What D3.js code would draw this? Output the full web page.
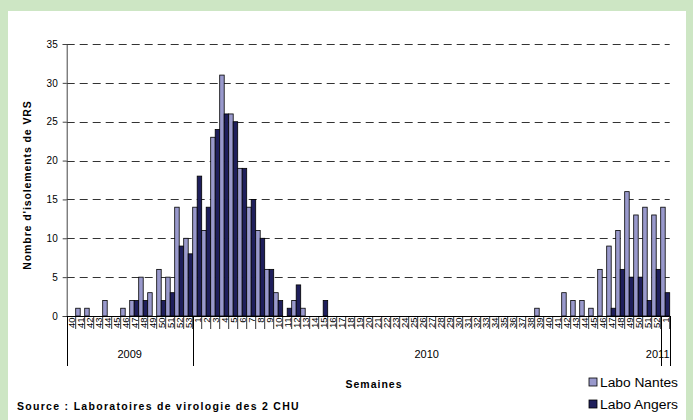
<!DOCTYPE html>
<html>
<head>
<meta charset="utf-8">
<script src="https://cdn.jsdelivr.net/npm/d3@7"></script>
<style>
  body { margin: 0; background: #cde6c4; }
  svg { display: block; font-family: "Liberation Sans", Arial, sans-serif; }
</style>
</head>
<body>
<svg width="693" height="420"></svg>
<script>
// weeks per year shown on the x axis
var years = ['2009', '2010', '2011'];
var weeks2009 = [40, 41, 42, 43, 44, 45, 46, 47, 48, 49, 50, 51, 52, 53];
var weeks2010 = d3.range(1, 53); // weeks 1..52
var weeks2011 = [1];

// Labo Nantes
var nantes2009 = [0, 1, 1, 0, 2, 0, 1, 2, 5, 3, 6, 5, 14, 10];
var nantes2010 = [14, 11, 23, 31, 26, 19, 14, 11, 6, 3, 0, 2, 1, 0, 0, 0, 0, 0, 0, 0,
                  0, 0, 0, 0, 0, 0, 0, 0, 0, 0, 0, 0, 0, 0, 0, 0, 0, 0, 1, 0,
                  0, 3, 2, 2, 1, 6, 9, 11, 16, 13, 14, 13];
var nantes2011 = [14];

// Labo Angers
var angers2009 = [0, 0, 0, 0, 0, 0, 0, 2, 2, 0, 2, 3, 9, 8];
var angers2010 = [18, 14, 24, 26, 25, 19, 15, 10, 6, 2, 1, 4, 0, 0, 2, 0, 0, 0, 0, 0,
                  0, 0, 0, 0, 0, 0, 0, 0, 0, 0, 0, 0, 0, 0, 0, 0, 0, 0, 0, 0,
                  0, 0, 0, 0, 0, 0, 1, 6, 5, 5, 2, 6];
var angers2011 = [3];

var series = ['Labo Nantes', 'Labo Angers'];
var colors = ['#9999cc', '#1f1f5c'];
var yTicks = [0, 5, 10, 15, 20, 25, 30, 35];

// build rows
var data = [];
function addYear(year, weeks, n, a) {
  weeks.forEach(function (w, i) {
    data.push({ key: year + '-' + w, year: year, week: w, values: [n[i], a[i]] });
  });
}
addYear('2009', weeks2009, nantes2009, angers2009);
addYear('2010', weeks2010, nantes2010, angers2010);
addYear('2011', weeks2011, nantes2011, angers2011);

var plot = { left: 66.7, right: 669.7, top: 44, bottom: 316 };

var svg = d3.select('svg');

// white panel
svg.append('rect')
  .attr('x', 8).attr('y', 11)
  .attr('width', 678).attr('height', 420)
  .attr('fill', '#fff');

var x = d3.scaleBand()
  .domain(data.map(function (d) { return d.key; }))
  .range([plot.left, plot.right])
  .padding(0);

var xs = d3.scaleBand().domain([0, 1]).range([0, x.bandwidth()]).padding(0);

var y = d3.scaleLinear().domain([0, 35]).range([plot.bottom, plot.top]);

// dashed gridlines
svg.append('g')
  .selectAll('line')
  .data(yTicks.filter(function (t) { return t > 0; }))
  .enter()
  .append('line')
  .attr('x1', plot.left).attr('x2', plot.right)
  .attr('y1', function (d) { return Math.round(y(d)) + 0.5; })
  .attr('y2', function (d) { return Math.round(y(d)) + 0.5; })
  .attr('stroke', '#333')
  .attr('stroke-dasharray', '8,5');

// bars
svg.append('g')
  .selectAll('g')
  .data(data)
  .enter()
  .append('g')
  .attr('transform', function (d) { return 'translate(' + x(d.key) + ',0)'; })
  .selectAll('rect')
  .data(function (d) { return d.values.map(function (v, i) { return { s: i, v: v }; }); })
  .enter()
  .filter(function (d) { return d.v > 0; })
  .append('rect')
  .attr('x', function (d) { return xs(d.s); })
  .attr('width', xs.bandwidth())
  .attr('y', function (d) { return y(d.v); })
  .attr('height', function (d) { return y(0) - y(d.v); })
  .attr('fill', function (d) { return colors[d.s]; })
  .attr('stroke', '#000')
  .attr('stroke-width', 0.8);

// y axis
var yAxis = svg.append('g')
  .attr('transform', 'translate(' + plot.left + ',0)')
  .call(d3.axisLeft(y).tickValues(yTicks).tickSize(4).tickPadding(5));
yAxis.select('.domain').attr('stroke', '#444');
yAxis.selectAll('.tick line').attr('stroke', '#444');
yAxis.selectAll('text')
  .attr('font-family', '"Liberation Sans", Arial, sans-serif')
  .attr('font-size', 10)
  .attr('fill', '#000');

// x axis line
svg.append('line')
  .attr('x1', plot.left).attr('x2', plot.right)
  .attr('y1', plot.bottom + 0.5).attr('y2', plot.bottom + 0.5)
  .attr('stroke', '#000');

// week tick lines and labels
var wk = svg.append('g');
wk.selectAll('line')
  .data(data)
  .enter()
  .append('line')
  .attr('x1', function (d) { return x(d.key) + x.bandwidth(); })
  .attr('x2', function (d) { return x(d.key) + x.bandwidth(); })
  .attr('y1', plot.bottom).attr('y2', plot.bottom + 13)
  .attr('stroke', '#000')
  .attr('stroke-width', 0.8);

wk.selectAll('text')
  .data(data)
  .enter()
  .append('text')
  .attr('transform', function (d) {
    return 'translate(' + (x(d.key) + x.bandwidth() / 2 + 3.5) + ',' + (plot.bottom + 1.5) + ') rotate(-90)';
  })
  .attr('text-anchor', 'end')
  .attr('font-size', 9.5)
  .text(function (d) { return d.week; });

// year dividers and labels
var yearInfo = years.map(function (yr) {
  var rows = data.filter(function (d) { return d.year === yr; });
  var x0 = x(rows[0].key);
  var x1 = x(rows[rows.length - 1].key) + x.bandwidth();
  return { year: yr, x0: x0, x1: x1 };
});

var yr = svg.append('g');
yr.selectAll('line.left')
  .data(yearInfo)
  .enter()
  .append('line')
  .attr('x1', function (d) { return Math.round(d.x0) + 0.5; })
  .attr('x2', function (d) { return Math.round(d.x0) + 0.5; })
  .attr('y1', plot.bottom).attr('y2', 366)
  .attr('stroke', '#000');
yr.append('line')
  .attr('x1', Math.round(plot.right) + 0.5).attr('x2', Math.round(plot.right) + 0.5)
  .attr('y1', plot.bottom).attr('y2', 366)
  .attr('stroke', '#000');

yr.selectAll('text')
  .data(yearInfo)
  .enter()
  .append('text')
  .attr('x', function (d) { return d.year === '2011' ? d.x0 - 3 : (d.x0 + d.x1) / 2; })
  .attr('y', 358)
  .attr('text-anchor', 'middle')
  .attr('font-size', 11)
  .text(function (d) { return d.year; });

// axis titles
svg.append('text')
  .attr('transform', 'translate(31,' + ((plot.top + plot.bottom) / 2 + 5) + ') rotate(-90)')
  .attr('text-anchor', 'middle')
  .attr('font-size', 10.5)
  .attr('letter-spacing', 0.9)
  .attr('font-weight', 'bold')
  .text("Nombre d'isolements de VRS");

svg.append('text')
  .attr('x', 374).attr('y', 388)
  .attr('text-anchor', 'middle')
  .attr('font-size', 10.5)
  .attr('letter-spacing', 1)
  .attr('font-weight', 'bold')
  .text('Semaines');

svg.append('text')
  .attr('x', 17).attr('y', 410)
  .attr('font-size', 10.5)
  .attr('letter-spacing', 1.3)
  .attr('font-weight', 'bold')
  .text('Source : Laboratoires de virologie des 2 CHU');

// legend
var lg = svg.append('g')
  .selectAll('g')
  .data(series)
  .enter()
  .append('g')
  .attr('transform', function (d, i) { return 'translate(589,' + (378 + i * 22) + ')'; });
lg.append('rect')
  .attr('width', 8).attr('height', 8)
  .attr('fill', function (d, i) { return colors[i]; })
  .attr('stroke', '#000')
  .attr('stroke-width', 0.8);
lg.append('text')
  .attr('x', 11).attr('y', 9)
  .attr('font-size', 12.5)
  .attr('textLength', 78)
  .attr('lengthAdjust', 'spacingAndGlyphs')
  .text(function (d) { return d; });
</script>
</body>
</html>
